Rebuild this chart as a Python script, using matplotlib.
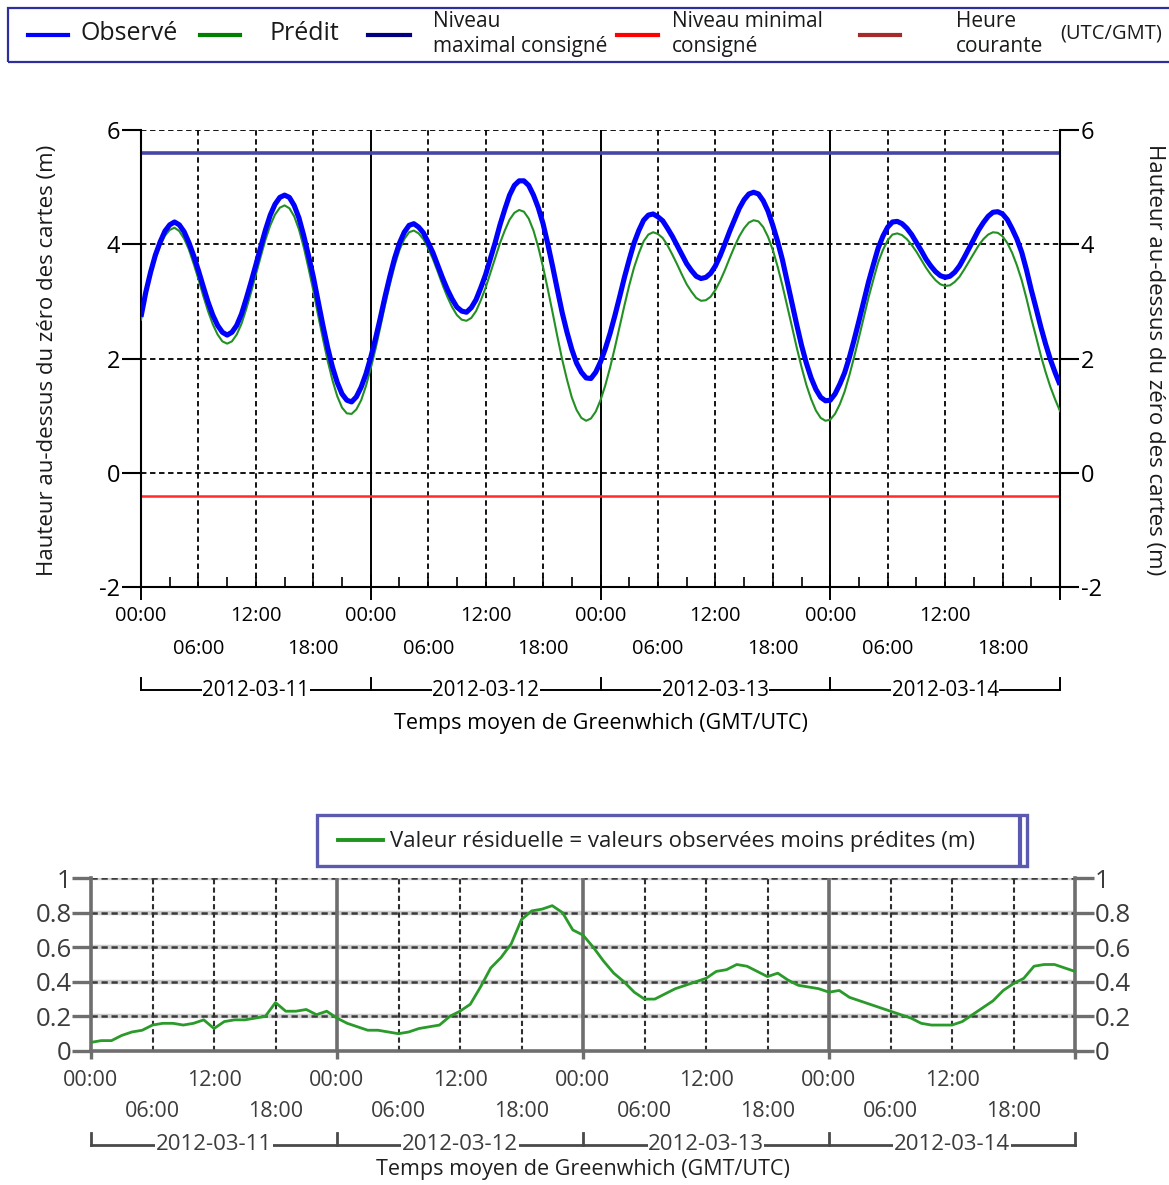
import matplotlib
matplotlib.use("Agg")
import matplotlib.pyplot as plt
from matplotlib.lines import Line2D
from matplotlib.patches import Rectangle
import matplotlib.transforms as mtransforms

plt.rcParams['font.family'] = ['Open Sans', 'DejaVu Sans']

# ---------------- data ----------------
# half-hourly timestamps (hours since 2012-03-11 00:00 UTC)
tide_hours = [i / 2 for i in range(193)]

observed = [2.73, 3.16, 3.51, 3.81, 4.04, 4.23, 4.34, 4.39, 4.34, 4.22,
            4.03, 3.80, 3.54, 3.26, 2.99, 2.76, 2.58, 2.46, 2.41, 2.46,
            2.58, 2.78, 3.05, 3.34, 3.64, 3.95, 4.25, 4.51, 4.70, 4.82,
            4.86, 4.82, 4.68, 4.46, 4.15, 3.80, 3.43, 3.00, 2.58, 2.19,
            1.85, 1.58, 1.38, 1.27, 1.24, 1.33, 1.50, 1.73, 2.02, 2.35,
            2.71, 3.09, 3.44, 3.76, 4.02, 4.21, 4.33, 4.36, 4.30, 4.20,
            4.03, 3.85, 3.63, 3.41, 3.21, 3.04, 2.90, 2.83, 2.81, 2.89,
            3.03, 3.24, 3.47, 3.75, 4.03, 4.34, 4.61, 4.86, 5.03, 5.11,
            5.11, 5.03, 4.86, 4.64, 4.36, 4.00, 3.61, 3.20, 2.80, 2.46,
            2.16, 1.92, 1.76, 1.66, 1.65, 1.76, 1.94, 2.17, 2.44, 2.75,
            3.08, 3.42, 3.73, 4.02, 4.24, 4.42, 4.51, 4.53, 4.48, 4.41,
            4.28, 4.14, 3.98, 3.82, 3.66, 3.54, 3.44, 3.40, 3.42, 3.49,
            3.62, 3.80, 4.01, 4.23, 4.43, 4.63, 4.78, 4.88, 4.91, 4.88,
            4.76, 4.58, 4.33, 4.05, 3.73, 3.35, 2.97, 2.59, 2.23, 1.92,
            1.66, 1.46, 1.32, 1.26, 1.27, 1.38, 1.55, 1.75, 2.02, 2.33,
            2.66, 3.00, 3.34, 3.64, 3.93, 4.14, 4.30, 4.39, 4.40, 4.36,
            4.28, 4.17, 4.03, 3.89, 3.74, 3.62, 3.52, 3.45, 3.42, 3.44,
            3.51, 3.62, 3.77, 3.93, 4.09, 4.25, 4.38, 4.49, 4.56, 4.57,
            4.53, 4.43, 4.27, 4.09, 3.86, 3.55, 3.20, 2.88, 2.55, 2.25,
            1.98, 1.75, 1.54]

predicted = [2.68, 3.10, 3.45, 3.75, 3.98, 4.15, 4.25, 4.29, 4.23, 4.10,
             3.91, 3.66, 3.39, 3.10, 2.83, 2.60, 2.42, 2.30, 2.26, 2.30,
             2.42, 2.61, 2.87, 3.16, 3.47, 3.78, 4.08, 4.33, 4.52, 4.64,
             4.68, 4.63, 4.49, 4.26, 3.95, 3.58, 3.19, 2.76, 2.35, 1.96,
             1.62, 1.34, 1.14, 1.04, 1.03, 1.11, 1.27, 1.52, 1.83, 2.17,
             2.55, 2.94, 3.30, 3.63, 3.90, 4.09, 4.21, 4.24, 4.19, 4.09,
             3.93, 3.74, 3.52, 3.29, 3.08, 2.90, 2.76, 2.68, 2.66, 2.71,
             2.83, 3.02, 3.24, 3.50, 3.76, 4.02, 4.24, 4.43, 4.55, 4.60,
             4.57, 4.45, 4.24, 3.95, 3.60, 3.21, 2.80, 2.38, 1.98, 1.63,
             1.32, 1.10, 0.96, 0.91, 0.95, 1.07, 1.27, 1.53, 1.84, 2.19,
             2.56, 2.93, 3.28, 3.59, 3.84, 4.05, 4.17, 4.21, 4.18, 4.11,
             3.98, 3.82, 3.65, 3.47, 3.30, 3.17, 3.06, 3.01, 3.02, 3.08,
             3.20, 3.36, 3.55, 3.76, 3.96, 4.14, 4.28, 4.38, 4.42, 4.40,
             4.30, 4.13, 3.90, 3.61, 3.28, 2.92, 2.56, 2.19, 1.85, 1.54,
             1.29, 1.09, 0.96, 0.91, 0.93, 1.03, 1.20, 1.42, 1.71, 2.03,
             2.37, 2.72, 3.07, 3.38, 3.68, 3.90, 4.07, 4.17, 4.19, 4.16,
             4.09, 3.99, 3.87, 3.73, 3.59, 3.47, 3.37, 3.30, 3.27, 3.28,
             3.34, 3.43, 3.56, 3.70, 3.84, 3.98, 4.09, 4.17, 4.21, 4.20,
             4.14, 4.02, 3.85, 3.63, 3.37, 3.05, 2.70, 2.38, 2.05, 1.76,
             1.50, 1.28, 1.08]

# hourly residual (observed minus predicted), hours 0..96
resid_hours = list(range(97))
residual = [0.05, 0.06, 0.06, 0.09, 0.11, 0.12, 0.15, 0.16, 0.16, 0.15,
            0.16, 0.18, 0.13, 0.17, 0.18, 0.18, 0.19, 0.20, 0.28, 0.23,
            0.23, 0.24, 0.21, 0.23, 0.19, 0.16, 0.14, 0.12, 0.12, 0.11,
            0.10, 0.11, 0.13, 0.14, 0.15, 0.20, 0.23, 0.27, 0.37, 0.48,
            0.54, 0.62, 0.76, 0.81, 0.82, 0.84, 0.80, 0.70, 0.67, 0.60,
            0.52, 0.45, 0.40, 0.34, 0.30, 0.30, 0.33, 0.36, 0.38, 0.40,
            0.42, 0.46, 0.47, 0.50, 0.49, 0.46, 0.43, 0.45, 0.41, 0.38,
            0.37, 0.36, 0.34, 0.35, 0.31, 0.29, 0.27, 0.25, 0.23, 0.21,
            0.19, 0.16, 0.15, 0.15, 0.15, 0.17, 0.21, 0.25, 0.29, 0.35,
            0.39, 0.42, 0.49, 0.50, 0.50, 0.48, 0.46]

max_level = 5.6
min_level = -0.4

dates = ["2012-03-11", "2012-03-12", "2012-03-13", "2012-03-14"]
day_bounds = [0, 24, 48, 72, 96]
row1_pos = [0, 12, 24, 36, 48, 60, 72, 84]
row1_lab = ["00:00", "12:00"] * 4
row2_pos = [6, 18, 30, 42, 54, 66, 78, 90]
row2_lab = ["06:00", "18:00"] * 4
grid_6h = [6, 12, 18, 30, 36, 42, 54, 60, 66, 78, 84, 90]
minor_3h = [h for h in range(3, 96, 3) if h % 24 != 0]

top_yticks = [-2, 0, 2, 4, 6]
bot_yticks = [0, 0.2, 0.4, 0.6, 0.8, 1.0]
bot_ylabels = ["0", "0.2", "0.4", "0.6", "0.8", "1"]

legend_items = ["Observé", "Prédit", "Niveau\nmaximal consigné",
                "Niveau minimal\nconsigné", "Heure\ncourante"]
legend_colors = ["#0000ff", "#008000", "#000080", "#ff0000", "#a52a2a"]
legend_tail = "(UTC/GMT)"
resid_label = "Valeur résiduelle = valeurs observées moins prédites (m)"
xlabel = "Temps moyen de Greenwhich (GMT/UTC)"
ylabel = "Hauteur au-dessus du zéro des cartes (m)"

# ---------------- figure ----------------
W, H = 1169, 1185
fig = plt.figure(figsize=(W / 100, H / 100), dpi=100)
fig.patch.set_facecolor("white")


def fx(x):
    return x / W


def fy(y):
    return 1 - y / H


# ---- top legend ----
fig.add_artist(Rectangle((fx(8), fy(62)), fx(1175 - 8), (62 - 8) / H,
                         transform=fig.transFigure, fill=False,
                         edgecolor="#2e2e9e", lw=1.6))
leg_line_x = [(28, 68), (200, 240), (368, 410), (617, 658), (860, 900)]
leg_text_x = [80, 270, 433, 672, 956]
leg_sizes = [18, 18, 15, 15, 15]
for (x0, x1), tx, lab, col, fs in zip(leg_line_x, leg_text_x, legend_items,
                                      legend_colors, leg_sizes):
    fig.add_artist(Line2D([fx(x0), fx(x1)], [fy(35), fy(35)],
                          transform=fig.transFigure, color=col, lw=3))
    fig.text(fx(tx), fy(34), lab, ha="left", va="center", fontsize=fs,
             linespacing=1.22, color="#1a1a1a")
fig.text(fx(1060), fy(34), legend_tail, ha="left", va="center",
         fontsize=14.5, color="#1a1a1a")

# ---- top chart ----
ax = fig.add_axes([fx(141), fy(587), fx(1060 - 141), (587 - 130) / H])
ax.set_xlim(0, 96)
ax.set_ylim(-2, 6)
for s in ["left", "right", "bottom"]:
    ax.spines[s].set_linewidth(1.5)
    ax.spines[s].set_color("black")
ax.spines["top"].set_visible(False)

dash = (0, (3, 2))
for y in [0, 2, 4, 6]:
    ax.axhline(y, color="black", lw=1.3, ls=dash, zorder=1)
for x in grid_6h:
    ax.axvline(x, color="black", lw=1.3, ls=dash, zorder=1)
for x in day_bounds[1:-1]:
    ax.axvline(x, color="black", lw=1.4, zorder=1)

ax.axhline(max_level, color="#4646a8", lw=2.6, zorder=2)
ax.axhline(min_level, color="#ff2a2a", lw=1.8, zorder=2)
ax.plot(tide_hours, predicted, color="#239023", lw=1.5, zorder=3)
ax.plot(tide_hours, observed, color="#0000ff", lw=3.7, zorder=4,
        solid_capstyle="butt", solid_joinstyle="round")

ax.set_yticks(top_yticks)
ax.set_yticklabels([str(v) for v in top_yticks])
ax.tick_params(axis="y", which="major", direction="out", length=14,
               width=1.5, labelsize=17, left=True, right=True,
               labelleft=True, labelright=True, pad=1)
ax.set_xticks(day_bounds)
ax.set_xticks(minor_3h, minor=True)
ax.tick_params(axis="x", which="major", direction="inout", length=18,
               width=1.4, labelbottom=False)
ax.tick_params(axis="x", which="minor", direction="in", length=7,
               width=1.2, labelbottom=False)

trans = mtransforms.blended_transform_factory(ax.transData, ax.transAxes)
for p, l in zip(row1_pos, row1_lab):
    ax.text(p, -0.063, l, transform=trans, ha="center", va="center",
            fontsize=14.5, color="black")
for p, l in zip(row2_pos, row2_lab):
    ax.text(p, -0.136, l, transform=trans, ha="center", va="center",
            fontsize=14.5, color="black")
yb = -0.2254
ax.plot([day_bounds[0], day_bounds[-1]], [yb, yb], transform=trans,
        color="black", lw=1.4, clip_on=False)
for d in day_bounds:
    ax.plot([d, d], [yb, yb + 0.027], transform=trans, color="black",
            lw=1.4, clip_on=False)
for i, dlab in enumerate(dates):
    ax.text((day_bounds[i] + day_bounds[i + 1]) / 2, yb, dlab,
            transform=trans, ha="center", va="center", fontsize=14.8,
            color="black",
            bbox=dict(facecolor="white", edgecolor="none", pad=0.3))
ax.text(0.5, -0.2976, xlabel, transform=ax.transAxes, ha="center",
        va="center", fontsize=15.5, color="black")

fig.text(fx(48), fy(360), ylabel, rotation=90, ha="center", va="center",
         fontsize=16, color="#1a1a1a")
fig.text(fx(1155), fy(360), ylabel, rotation=-90, ha="center", va="center",
         fontsize=16, color="#1a1a1a")

# ---- bottom legend ----
fig.add_artist(Rectangle((fx(317), fy(866)), fx(1027 - 317), (866 - 815) / H,
                         transform=fig.transFigure, facecolor="white",
                         edgecolor="#5a5ab0", lw=2.4))
fig.add_artist(Line2D([fx(1020), fx(1020)], [fy(818), fy(863)],
                      transform=fig.transFigure, color="#5a5ab0", lw=3))
fig.add_artist(Line2D([fx(338), fx(383)], [fy(840), fy(840)],
                      transform=fig.transFigure, color="#1e961e", lw=2.8))
fig.text(fx(390), fy(841), resid_label, ha="left", va="center",
         fontsize=16, color="#202020")

# ---- bottom chart ----
gray = "#6e6e6e"
ax2 = fig.add_axes([fx(91), fy(1051), fx(1075 - 91), (1051 - 878) / H])
ax2.set_xlim(0, 96)
ax2.set_ylim(0, 1)
for s in ["left", "right", "bottom"]:
    ax2.spines[s].set_linewidth(2.6)
    ax2.spines[s].set_color(gray)
ax2.spines["top"].set_visible(False)

for y in bot_yticks[1:]:
    ax2.axhline(y, color="#cfcfcf", lw=3.2, zorder=1)
    ax2.axhline(y, color="#3c3c3c", lw=1.8, ls=(0, (2.5, 1.5)), zorder=1)
for x in grid_6h:
    ax2.axvline(x, color="#2e2e2e", lw=1.5, ls=(0, (2.5, 1.5)), zorder=1)
for x in day_bounds[1:-1]:
    ax2.axvline(x, color=gray, lw=2.6, zorder=1)

ax2.plot(resid_hours, residual, color="#2a9a2a", lw=2.0, zorder=3)

ax2.set_yticks(bot_yticks)
ax2.set_yticklabels(bot_ylabels)
ax2.tick_params(axis="y", direction="out", length=14, width=2.4,
                color=gray, labelsize=18.5, labelcolor="#3c3c3c",
                left=True, right=True, labelleft=True, labelright=True,
                pad=0)
ax2.set_xticks(day_bounds)
ax2.tick_params(axis="x", direction="out", length=6, width=2.4, color=gray,
                labelbottom=False)

trans2 = mtransforms.blended_transform_factory(ax2.transData, ax2.transAxes)
for p, l in zip(row1_pos, row1_lab):
    ax2.text(p, -0.168, l, transform=trans2, ha="center", va="center",
             fontsize=15.5, color="#3c3c3c")
for p, l in zip(row2_pos, row2_lab):
    ax2.text(p, -0.347, l, transform=trans2, ha="center", va="center",
             fontsize=15.5, color="#3c3c3c")
yb2 = -0.543
ax2.plot([day_bounds[0], day_bounds[-1]], [yb2, yb2], transform=trans2,
         color="#4a4a4a", lw=2.0, clip_on=False)
for d in day_bounds:
    ax2.plot([d, d], [yb2, yb2 + 0.07], transform=trans2, color="#4a4a4a",
             lw=2.0, clip_on=False)
for i, dlab in enumerate(dates):
    ax2.text((day_bounds[i] + day_bounds[i + 1]) / 2, yb2, dlab,
             transform=trans2, ha="center", va="center", fontsize=16,
             color="#3c3c3c",
             bbox=dict(facecolor="white", edgecolor="none", pad=0.3))
fig.text(fx(583), fy(1169), xlabel, ha="center", va="center",
         fontsize=15.5, color="#202020")

fig.savefig("out.png", dpi=100, facecolor="white")
